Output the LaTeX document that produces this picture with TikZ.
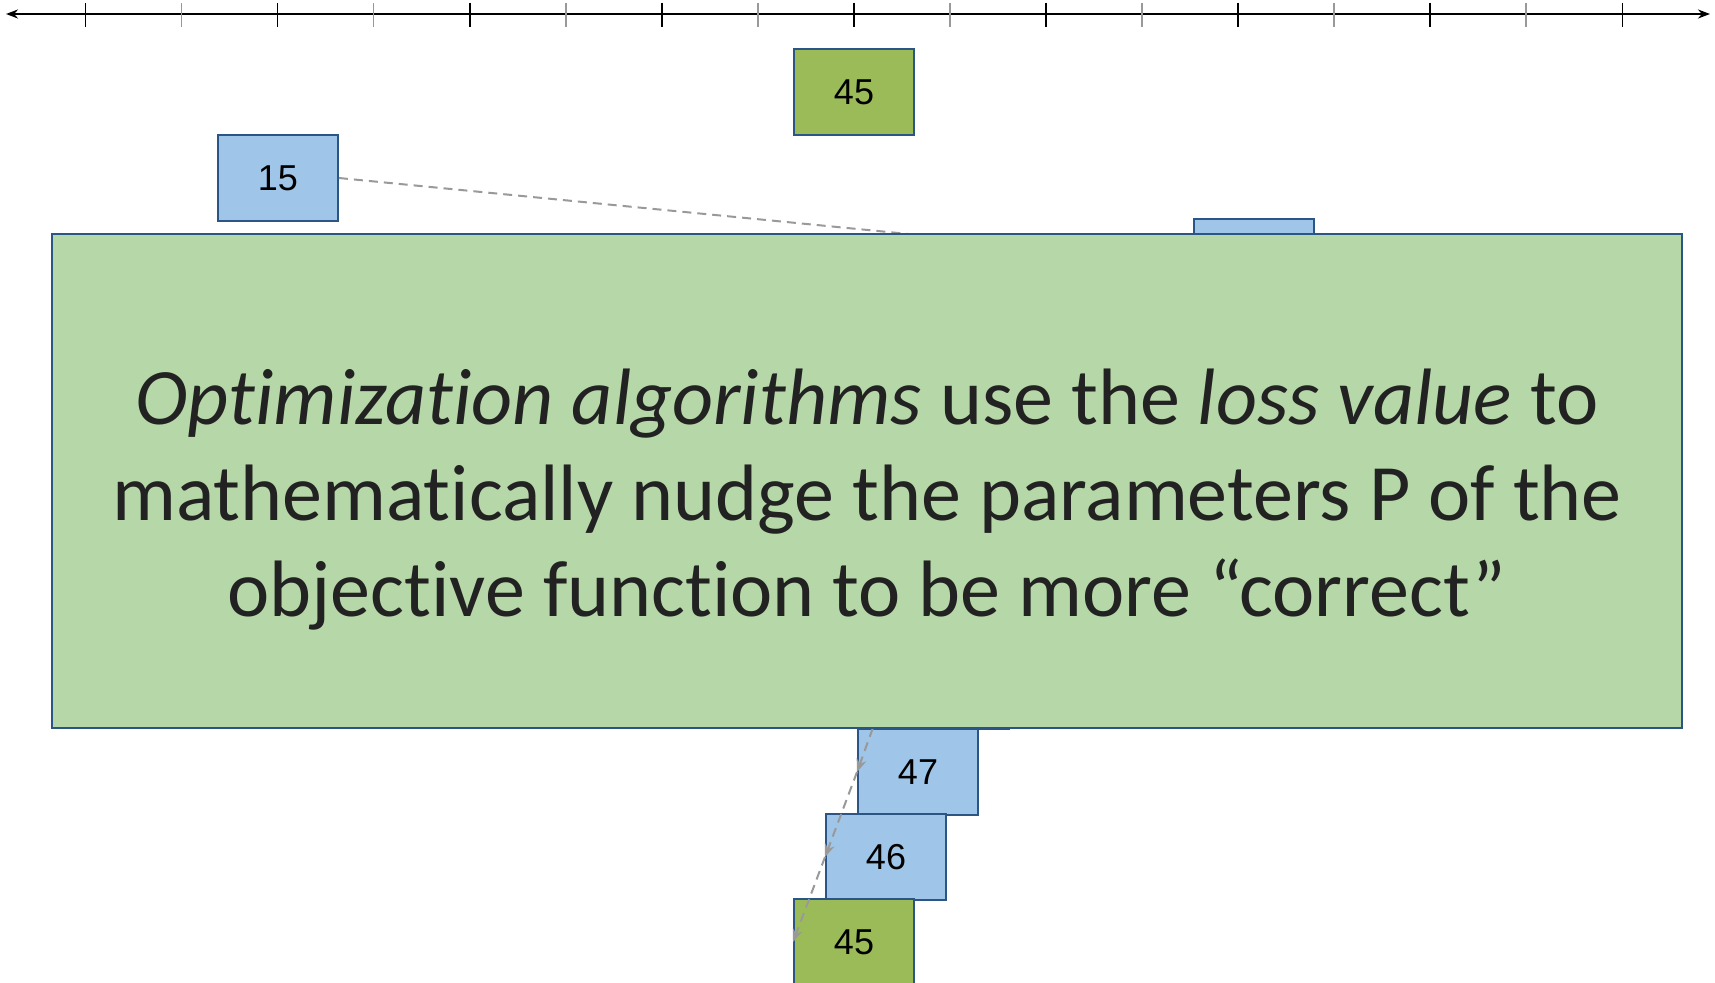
\documentclass[tikz,border=0pt]{standalone}
\usepackage{fontspec}
\setmainfont{Liberation Sans}
\newfontfamily\carlito[Ligatures=NoCommon]{Carlito}
\usetikzlibrary{arrows.meta}
\definecolor{boxblue}{HTML}{9FC5E8}
\definecolor{boxgreen}{HTML}{9BBB59}
\definecolor{biggreen}{HTML}{B6D7A8}
\definecolor{edgeblue}{HTML}{2B5585}
\definecolor{dashgray}{HTML}{999999}
\definecolor{txtgray}{HTML}{222222}
\tikzset{
  numbox/.style={draw=edgeblue, line width=2pt, minimum width=120pt, minimum height=86pt, inner sep=0pt,
    font=\fontsize{36}{40}\selectfont},
  bluebox/.style={numbox, fill=boxblue},
  greenbox/.style={numbox, fill=boxgreen},
  majortick/.style={line width=1.6pt, black},
  minortick/.style={line width=1.6pt, black!40},
  link/.style={draw=dashgray, line width=2pt, dash pattern=on 9pt off 6pt},
  linkarrow/.style={link, -{Stealth[length=13pt,width=10pt,fill=dashgray,sep=0pt]}},
}
\begin{document}
\begin{tikzpicture}[x=1pt,y=-1pt]
\useasboundingbox (0,0) rectangle (1715,982);
% axis
\coordinate (axL) at (6,14);
\coordinate (axR) at (1710,14);
\draw[line width=2pt, {Stealth[length=12pt,width=9pt]}-{Stealth[length=12pt,width=9pt]}] (axL) -- (axR);
\foreach \i in {0,...,8} {
  \draw[majortick] ({85.5+\i*192.1},3) -- ({85.5+\i*192.1},27);
}
\foreach \i in {0,...,7} {
  \draw[minortick] ({181.5+\i*192.1},3) -- ({181.5+\i*192.1},27);
}
% top target
\node[greenbox] (t45) at (854,92) {45};
% hidden box top right
\node[bluebox] (h1) at (1254,262) {};
% box 15
\node[bluebox] (b15) at (278,178) {15};
\draw[linkarrow] (b15.east) -- (h1.west);
% bottom chain
\node[bluebox] (h2) at (949,686) {};
\node[bluebox] (b47) at (918,772) {47};
\node[bluebox] (b46) at (886,857) {46};
\node[greenbox] (b45) at (854,942) {45};
\draw[linkarrow] (h2.west) -- (b47.west);
\draw[linkarrow] (b47.west) -- (b46.west);
\draw[linkarrow] (b46.west) -- (b45.west);
% big message box
\node[draw=edgeblue, fill=biggreen, line width=2pt, minimum width=1630pt, minimum height=494pt, inner sep=0pt]
  (opt) at (867,481) {};
\node[text=txtgray, align=center, font=\carlito\fontsize{80}{96}\selectfont] (msg) at (867,500)
  {\textit{Optimization algorithms} use the \textit{loss value} to\\
   mathematically nudge the parameters P of the\\
   objective function to be more “correct”};
\end{tikzpicture}
\end{document}
